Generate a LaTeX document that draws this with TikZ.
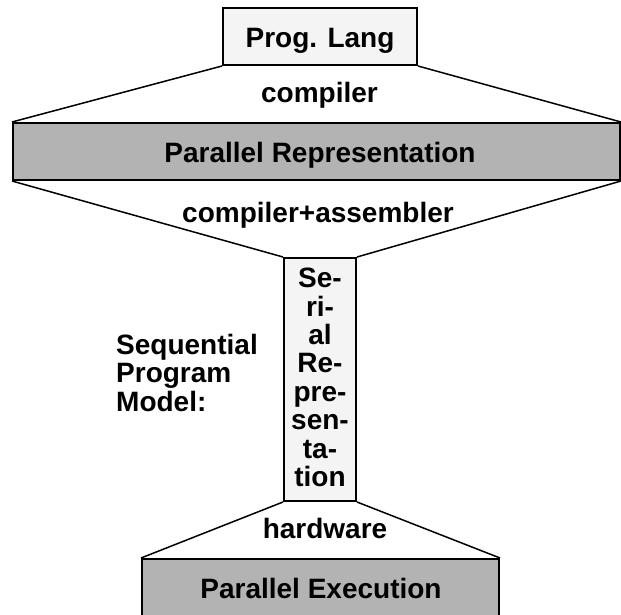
\documentclass[tikz,border=0pt]{standalone}
\usepackage{fontspec}
\setmainfont{Liberation Sans}
\definecolor{boxgray}{HTML}{B3B3B3}
\definecolor{boxlight}{HTML}{F4F4F4}
\begin{document}
\begin{tikzpicture}[x=1pt,y=-1pt,
  box/.style={draw=black, line width=2pt, inner sep=0pt, rectangle},
  darkbox/.style={box, fill=boxgray},
  lightbox/.style={box, fill=boxlight},
  conn/.style={draw=black, line width=1.5pt},
  lbl/.style={inner sep=0pt, font=\bfseries\fontsize{28}{28.4}\selectfont}
]
\clip (0,0) rectangle (621,614);
\fill[white] (0,0) rectangle (621,614);

% boxes
\node[lightbox, minimum width=194pt, minimum height=57pt] (pl) at (320,36.5) {};
\node[darkbox, minimum width=607pt, minimum height=57pt] (pr) at (316.5,151.5) {};
\node[lightbox, minimum width=72pt, minimum height=243pt] (sr) at (320,379.5) {};
\node[darkbox, minimum width=357pt, minimum height=59pt] (pe) at (320.5,588.5) {};

% connectors
\draw[conn] (pl.south west) -- (pr.north west);
\draw[conn] (pl.south east) -- (pr.north east);
\draw[conn] (pr.south west) -- (sr.north west);
\draw[conn] (pr.south east) -- (sr.north east);
\draw[conn] (sr.south west) -- (pe.north west);
\draw[conn] (sr.south east) -- (pe.north east);

% texts
\node[lbl, anchor=base] (pltext) at (320,47) {Prog. Lang};
\node[lbl, anchor=base] (comp) at (319.5,102) {compiler};
\node[lbl, anchor=base] (prtext) at (320,162) {Parallel Representation};
\node[lbl, anchor=base] (compasm) at (318,222) {compiler+assembler};
\node[lbl, align=center] (srtext) at (320,377.5) {Se-\\ri-\\al\\Re-\\pre-\\sen-\\ta-\\tion};
\node[lbl, align=left, anchor=north west] (seq) at (116,334) {Sequential\\Program\\Model:};
\node[lbl, anchor=base] (hw) at (325,538) {hardware};
\node[lbl, anchor=base] (petext) at (321,598) {Parallel Execution};
\end{tikzpicture}
\end{document}
